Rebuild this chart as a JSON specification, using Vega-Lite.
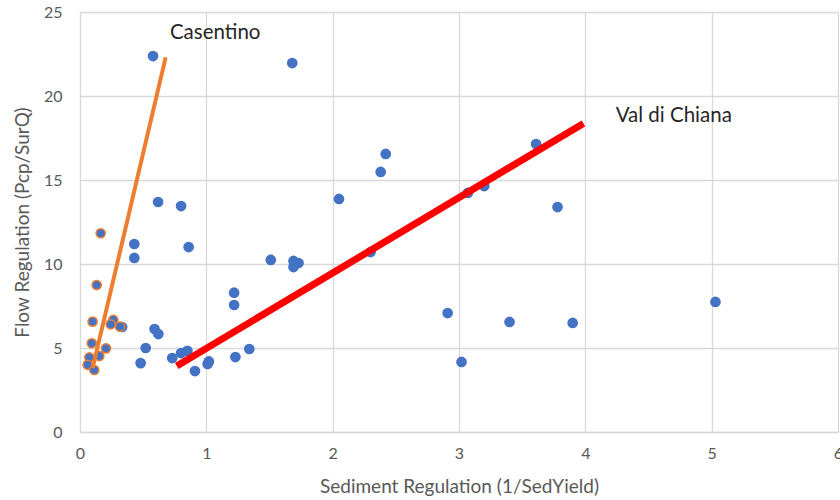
{
  "$schema": "https://vega.github.io/schema/vega-lite/v6.json",
  "width": 758,
  "height": 420,
  "autosize": {"type": "none"},
  "padding": {"left": 80, "top": 12, "right": 2, "bottom": 68},
  "background": "white",
  "config": {
    "font": "Lato",
    "view": {"stroke": null},
    "axis": {
      "labelFont": "Lato",
      "titleFont": "Lato",
      "labelColor": "#595959",
      "titleColor": "#595959",
      "labelFontSize": 16,
      "titleFontSize": 19,
      "titleFontWeight": "normal",
      "gridColor": "#d9d9d9",
      "gridWidth": 1.3,
      "ticks": false
    }
  },
  "datasets": {
    "pts": [
      {"x": 0.578, "y": 22.38, "group": "Other"},
      {"x": 1.68, "y": 21.96, "group": "Other"},
      {"x": 2.42, "y": 16.55, "group": "Other"},
      {"x": 2.38, "y": 15.48, "group": "Other"},
      {"x": 3.61, "y": 17.14, "group": "Other"},
      {"x": 2.05, "y": 13.87, "group": "Other"},
      {"x": 3.07, "y": 14.23, "group": "Other"},
      {"x": 3.2, "y": 14.64, "group": "Other"},
      {"x": 3.78, "y": 13.39, "group": "Other"},
      {"x": 0.618, "y": 13.69, "group": "Other"},
      {"x": 0.8, "y": 13.45, "group": "Other"},
      {"x": 0.43, "y": 11.19, "group": "Other"},
      {"x": 0.86, "y": 11.01, "group": "Other"},
      {"x": 0.43, "y": 10.36, "group": "Other"},
      {"x": 1.51, "y": 10.24, "group": "Other"},
      {"x": 1.69, "y": 10.18, "group": "Other"},
      {"x": 1.73, "y": 10.06, "group": "Other"},
      {"x": 1.69, "y": 9.82, "group": "Other"},
      {"x": 2.3, "y": 10.71, "group": "Other"},
      {"x": 1.22, "y": 8.29, "group": "Other"},
      {"x": 1.22, "y": 7.56, "group": "Other"},
      {"x": 5.03, "y": 7.74, "group": "Other"},
      {"x": 2.91, "y": 7.08, "group": "Other"},
      {"x": 3.4, "y": 6.55, "group": "Other"},
      {"x": 3.9, "y": 6.49, "group": "Other"},
      {"x": 0.59, "y": 6.13, "group": "Other"},
      {"x": 0.62, "y": 5.83, "group": "Other"},
      {"x": 0.52, "y": 5.0, "group": "Other"},
      {"x": 0.48, "y": 4.1, "group": "Other"},
      {"x": 0.73, "y": 4.4, "group": "Other"},
      {"x": 0.8, "y": 4.7, "group": "Other"},
      {"x": 0.85, "y": 4.83, "group": "Other"},
      {"x": 0.91, "y": 3.63, "group": "Other"},
      {"x": 1.01, "y": 4.05, "group": "Other"},
      {"x": 1.02, "y": 4.2, "group": "Other"},
      {"x": 1.23, "y": 4.46, "group": "Other"},
      {"x": 1.34, "y": 4.94, "group": "Other"},
      {"x": 3.02, "y": 4.17, "group": "Other"},
      {"x": 0.333, "y": 6.25, "group": "Other"},
      {"x": 0.164, "y": 11.83, "group": "Casentino"},
      {"x": 0.132, "y": 8.75, "group": "Casentino"},
      {"x": 0.1, "y": 6.57, "group": "Casentino"},
      {"x": 0.264, "y": 6.67, "group": "Casentino"},
      {"x": 0.243, "y": 6.41, "group": "Casentino"},
      {"x": 0.317, "y": 6.27, "group": "Casentino"},
      {"x": 0.093, "y": 5.28, "group": "Casentino"},
      {"x": 0.206, "y": 4.98, "group": "Casentino"},
      {"x": 0.074, "y": 4.45, "group": "Casentino"},
      {"x": 0.153, "y": 4.52, "group": "Casentino"},
      {"x": 0.061, "y": 4.0, "group": "Casentino"},
      {"x": 0.113, "y": 3.69, "group": "Casentino"}
    ],
    "lines": [
      {"x": 0.1, "y": 3.8, "series": "Casentino"},
      {"x": 0.678, "y": 22.3, "series": "Casentino"},
      {"x": 0.766, "y": 3.93, "series": "Val di Chiana"},
      {"x": 3.985, "y": 18.37, "series": "Val di Chiana"}
    ],
    "labels": [
      {"x": 1.07, "y": 23.75, "label": "Casentino"},
      {"x": 4.7, "y": 18.8, "label": "Val di Chiana"}
    ]
  },
  "layer": [
    {
      "data": {"name": "pts"},
      "mark": {"type": "point", "filled": false, "fill": "#4472C4", "fillOpacity": 1, "strokeWidth": 1.5, "size": 85, "shape": "circle", "opacity": 1},
      "encoding": {
        "x": {"field": "x", "type": "quantitative", "scale": {"domain": [0, 6], "nice": false},
          "axis": {"title": "Sediment Regulation (1/SedYield)", "values": [0, 1, 2, 3, 4, 5, 6], "format": "d", "labelPadding": 13, "titlePadding": 16, "domain": true, "domainColor": "#d9d9d9", "domainWidth": 1.3, "labelFlush": false}},
        "y": {"field": "y", "type": "quantitative", "scale": {"domain": [0, 25], "nice": false},
          "axis": {"title": "Flow Regulation (Pcp/SurQ)", "values": [0, 5, 10, 15, 20, 25], "labelPadding": 18, "titlePadding": 11, "domain": false}},
        "stroke": {"field": "group", "type": "nominal", "scale": {"domain": ["Casentino", "Other"], "range": ["#ED7D31", "#4472C4"]}, "legend": null}
      }
    },
    {
      "data": {"name": "lines"},
      "mark": {"type": "line", "strokeCap": "butt"},
      "encoding": {
        "x": {"field": "x", "type": "quantitative"},
        "y": {"field": "y", "type": "quantitative"},
        "detail": {"field": "series"},
        "color": {"field": "series", "type": "nominal", "scale": {"domain": ["Casentino", "Val di Chiana"], "range": ["#ED7D31", "#FF0000"]}, "legend": null},
        "strokeWidth": {"field": "series", "type": "nominal", "scale": {"domain": ["Casentino", "Val di Chiana"], "range": [4, 7]}, "legend": null}
      }
    },
    {
      "data": {"name": "labels"},
      "mark": {"type": "text", "font": "Lato", "fontSize": 20.5, "color": "#262626"},
      "encoding": {
        "x": {"field": "x", "type": "quantitative"},
        "y": {"field": "y", "type": "quantitative"},
        "text": {"field": "label"}
      }
    }
  ]
}
